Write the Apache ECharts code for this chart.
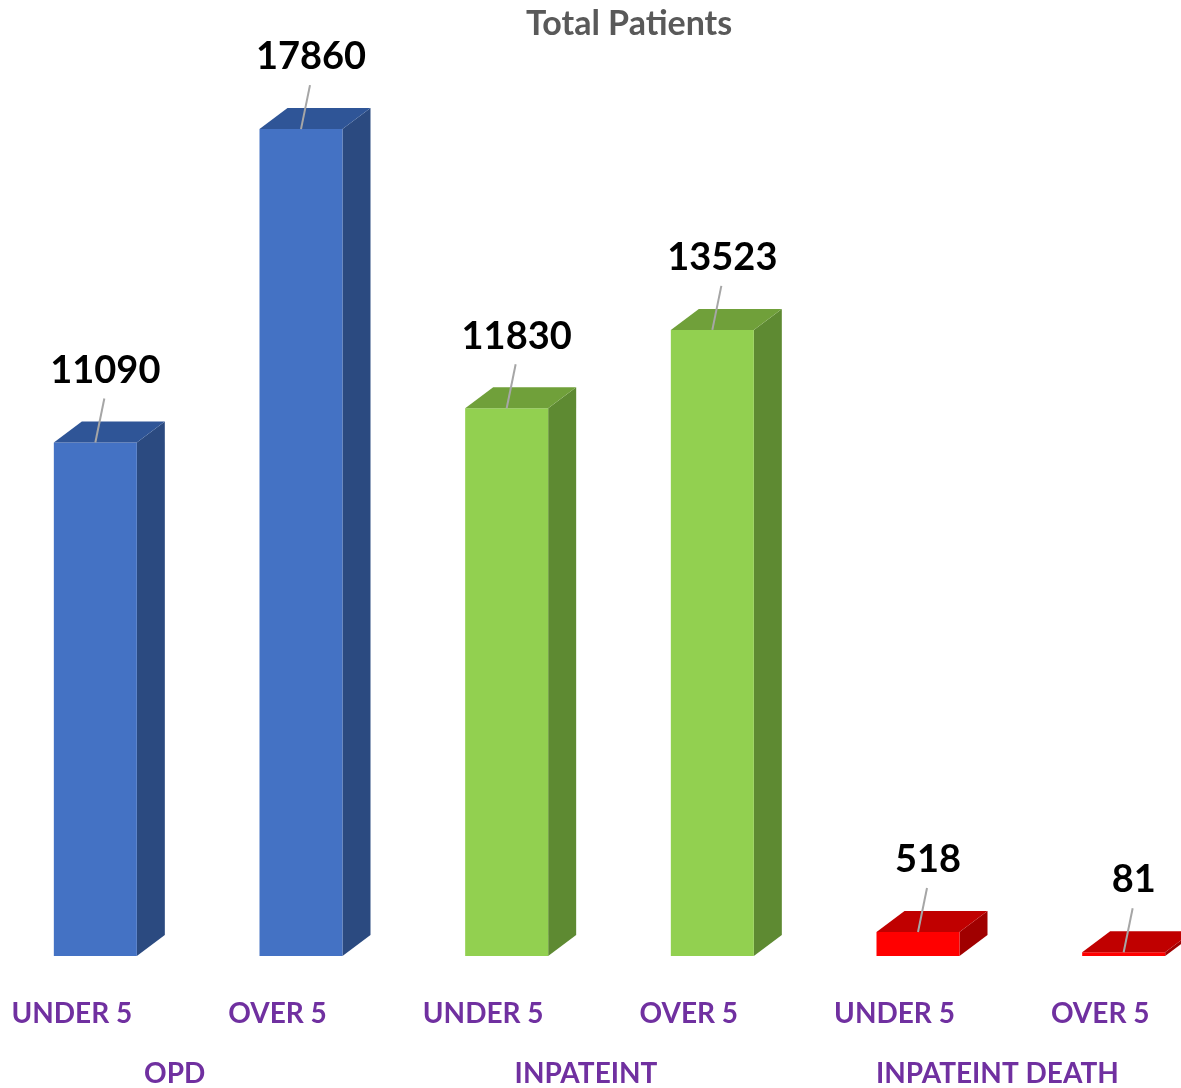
<!DOCTYPE html>
<html>
<head>
<meta charset="utf-8">
<script src="https://cdn.jsdelivr.net/npm/echarts@6/dist/echarts.min.js"></script>
<style>
  html, body { margin: 0; padding: 0; background: #fff; overflow: hidden; }
  #chart { position: absolute; left: -31px; top: 0; width: 1234px; height: 1088px; }
</style>
</head>
<body>
<div id="chart"></div>
<script>
const categories = ["UNDER 5", "OVER 5", "UNDER 5", "OVER 5", "UNDER 5", "OVER 5"];
const groups = ["OPD", "INPATEINT", "INPATEINT DEATH"];
const values = [11090, 17860, 11830, 13523, 518, 81];

// front / top / side shades per group
const palette = [
  { front: "#4472C4", top: "#2F5597", side: "#2B4A80" },
  { front: "#92D050", top: "#70A03A", side: "#5E8A32" },
  { front: "#FF0000", top: "#C00000", side: "#A00000" },
];

const FONT = "Lato, 'Open Sans', sans-serif";

const chart = echarts.init(document.getElementById("chart"));

const renderItem = (params, api) => {
  const idx = api.value(0);
  const topPt = api.coord([idx, api.value(1)]);
  const basePt = api.coord([idx, 0]);
  const c = palette[Math.floor(idx / 2)];
  const w = 83, d = 28, dy = 21;
  const x0 = basePt[0] - 18;
  const top = topPt[1], base = basePt[1];
  const fc = x0 + w / 2;
  return {
    type: "group",
    children: [
      {
        type: "polygon",
        shape: { points: [[x0 + w, top], [x0 + w + d, top - dy], [x0 + w + d, base - dy], [x0 + w, base]] },
        style: { fill: c.side },
      },
      {
        type: "rect",
        shape: { x: x0, y: top, width: w, height: base - top },
        style: { fill: c.front },
      },
      {
        type: "polygon",
        shape: { points: [[x0, top], [x0 + d, top - dy], [x0 + w + d, top - dy], [x0 + w, top]] },
        style: { fill: c.top },
      },
      {
        type: "line",
        shape: { x1: fc + 9, y1: top - 44, x2: fc, y2: top },
        style: { stroke: "#A6A6A6", lineWidth: 2 },
      },
      {
        type: "text",
        style: {
          text: String(api.value(1)),
          x: fc + 10,
          y: top - 72,
          align: "center",
          verticalAlign: "middle",
          fontFamily: FONT,
          fontWeight: "bold",
          fontSize: 38,
          fill: "#000",
        },
      },
    ],
  };
};

const axisLabelStyle = {
  interval: 0,
  margin: 44,
  color: "#7030A0",
  fontFamily: FONT,
  fontWeight: "bold",
  fontSize: 28,
};

const option = {
  animation: false,
  title: {
    text: "Total Patients",
    left: 552,
    top: 2,
    textStyle: { color: "#595959", fontFamily: FONT, fontWeight: "bold", fontSize: 34 },
  },
  grid: { left: 0, right: 0, top: 30, bottom: 129, containLabel: false },
  xAxis: [
    {
      type: "category",
      data: categories,
      position: "bottom",
      axisLine: { show: false },
      axisTick: { show: false },
      axisLabel: axisLabelStyle,
    },
    {
      type: "category",
      data: groups,
      position: "bottom",
      offset: 60,
      axisLine: { show: false },
      axisTick: { show: false },
      axisLabel: axisLabelStyle,
    },
  ],
  yAxis: { type: "value", min: 0, max: 20000, show: false },
  series: [
    {
      type: "custom",
      renderItem: renderItem,
      clip: false,
      data: values.map((v, i) => [i, v]),
      encode: { x: 0, y: 1 },
    },
  ],
};
chart.setOption(option);
</script>
</body>
</html>
